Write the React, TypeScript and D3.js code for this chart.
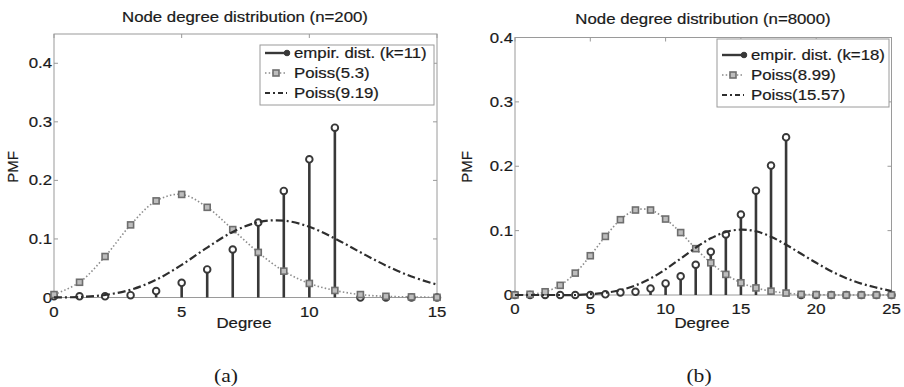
import * as d3 from "d3";
import { useEffect, useRef } from "react";

// ---- data ----
const degreesA = d3.range(0, 16);
const empiricalA = [0.002, 0.002, 0.002, 0.004, 0.011, 0.025, 0.048, 0.082, 0.128, 0.182, 0.236, 0.29, 0, 0, 0, 0];
const poissLowA = [0.005, 0.026, 0.07, 0.124, 0.165, 0.176, 0.154, 0.116, 0.077, 0.045, 0.024, 0.012, 0.005, 0.002, 0.001, 0.0003];
const poissHighA = [0.0001, 0.0009, 0.0043, 0.0132, 0.0303, 0.0557, 0.0853, 0.112, 0.1286, 0.1313, 0.1207, 0.1008, 0.0772, 0.0546, 0.0358, 0.022];

const degreesB = d3.range(0, 26);
const empiricalB = [0, 0, 0, 0, 0, 0, 0.001, 0.004, 0.005, 0.01, 0.018, 0.029, 0.047, 0.067, 0.094, 0.125, 0.162, 0.201, 0.245, 0, 0, 0, 0, 0, 0, 0];
const poissLowB = [0.0001, 0.0011, 0.005, 0.015, 0.034, 0.061, 0.091, 0.117, 0.132, 0.132, 0.118, 0.097, 0.072, 0.05, 0.032, 0.019, 0.011, 0.006, 0.003, 0.001, 0.0006, 0, 0, 0, 0, 0];
const poissHighB = [0, 0, 0, 0, 0, 0.0013, 0.0034, 0.0076, 0.0149, 0.0257, 0.04, 0.0566, 0.0735, 0.088, 0.098, 0.1015, 0.099, 0.0905, 0.078, 0.064, 0.05, 0.037, 0.026, 0.0177, 0.0115, 0.006];

const yTicks = [0, 0.1, 0.2, 0.3, 0.4];
const xTicksA = [0, 5, 10, 15];
const xTicksB = [0, 5, 10, 15, 20, 25];

const COLORS = {
  box: "#9a9a9a",
  text: "#1a1a1a",
  stem: "#383838",
  squareStroke: "#6e6e6e",
  squareFill: "#bdbdbd",
  dotted: "#8c8c8c",
  dashdot: "#2e2e2e",
};

const FONT = "'Liberation Sans', Arial, Helvetica, sans-serif";
const STRETCH = 1.2; // the reference is widened horizontally

const Panel = ({ svgRef, cfg }) => {
  useEffect(() => {
    const svg = d3.select(svgRef.current);
    const g = svg.append("g");

    const x = d3.scaleLinear().domain(cfg.xDomain).range([cfg.x0, cfg.x1]);
    const y = d3.scaleLinear().domain(cfg.yDomain).range([cfg.yBottom, cfg.yTop]);

    const addText = (tx, ty, str, anchor = "middle", size = 14, family = FONT, sw = 0.2) =>
      g
        .append("text")
        .attr("transform", `translate(${tx},${ty}) scale(${STRETCH},1)`)
        .attr("text-anchor", anchor)
        .attr("font-family", family)
        .attr("font-size", size)
        .attr("fill", COLORS.text)
        .attr("stroke", sw ? COLORS.text : "none")
        .attr("stroke-width", sw)
        .text(str);

    // box
    g.append("rect")
      .attr("x", cfg.x0)
      .attr("y", cfg.yTop)
      .attr("width", cfg.x1 - cfg.x0)
      .attr("height", cfg.yBottom - cfg.yTop)
      .attr("fill", "none")
      .attr("stroke", COLORS.box)
      .attr("stroke-width", 1);

    // inner ticks on all sides
    const tl = 4;
    cfg.xTicks.forEach((t) => {
      g.append("line").attr("x1", x(t)).attr("x2", x(t)).attr("y1", cfg.yBottom).attr("y2", cfg.yBottom - tl).attr("stroke", COLORS.box);
      g.append("line").attr("x1", x(t)).attr("x2", x(t)).attr("y1", cfg.yTop).attr("y2", cfg.yTop + tl).attr("stroke", COLORS.box);
      addText(x(t), cfg.yBottom + 19, String(t));
    });
    yTicks.forEach((t) => {
      g.append("line").attr("x1", cfg.x0).attr("x2", cfg.x0 + tl).attr("y1", y(t)).attr("y2", y(t)).attr("stroke", COLORS.box);
      g.append("line").attr("x1", cfg.x1).attr("x2", cfg.x1 - tl).attr("y1", y(t)).attr("y2", y(t)).attr("stroke", COLORS.box);
      addText(cfg.x0 - 2, y(t) + 5, t === 0 ? "0" : t.toFixed(1), "end");
    });

    // stems
    const stems = cfg.degrees.map((d, i) => ({ d, v: cfg.empirical[i] }));
    g.selectAll(null)
      .data(stems)
      .enter()
      .append("line")
      .attr("x1", (s) => x(s.d))
      .attr("x2", (s) => x(s.d))
      .attr("y1", y(0))
      .attr("y2", (s) => y(s.v))
      .attr("stroke", COLORS.stem)
      .attr("stroke-width", 2.6);
    g.selectAll(null)
      .data(stems)
      .enter()
      .append("circle")
      .attr("cx", (s) => x(s.d))
      .attr("cy", (s) => y(s.v))
      .attr("r", 3.3)
      .attr("fill", "#fff")
      .attr("stroke", COLORS.stem)
      .attr("stroke-width", 1.9);

    // Poisson fit (low mean): dotted with squares
    const lineGen = d3
      .line()
      .x((p) => x(p[0]))
      .y((p) => y(p[1]))
      .curve(d3.curveCatmullRom);
    const low = cfg.degrees.map((d, i) => [d, cfg.poissLow[i]]);
    g.append("path")
      .attr("d", lineGen(low))
      .attr("fill", "none")
      .attr("stroke", COLORS.dotted)
      .attr("stroke-width", 1.6)
      .attr("stroke-dasharray", "1.5,2.2");
    g.selectAll(null)
      .data(low)
      .enter()
      .append("rect")
      .attr("x", (p) => x(p[0]) - 3)
      .attr("y", (p) => y(p[1]) - 3)
      .attr("width", 6)
      .attr("height", 6)
      .attr("fill", COLORS.squareFill)
      .attr("stroke", COLORS.squareStroke)
      .attr("stroke-width", 1.6);

    // Poisson fit (high mean): dash-dot
    const high = cfg.degrees.map((d, i) => [d, cfg.poissHigh[i]]);
    g.append("path")
      .attr("d", lineGen(high))
      .attr("fill", "none")
      .attr("stroke", COLORS.dashdot)
      .attr("stroke-width", 2.2)
      .attr("stroke-dasharray", "8,3,2,3");

    // titles
    addText(cfg.titleX, cfg.titleY, cfg.title);
    addText(cfg.xLabelX, 328, "Degree");
    g.append("text")
      .attr("transform", `translate(${cfg.pmfX},167) rotate(-90)`)
      .attr("text-anchor", "middle")
      .attr("font-family", FONT)
      .attr("font-size", 15)
      .attr("fill", COLORS.text)
      .attr("stroke", COLORS.text)
      .attr("stroke-width", 0.2)
      .text("PMF");
    addText(cfg.capX, 382, cfg.caption, "middle", 18, "'Liberation Serif', 'Times New Roman', serif", 0);

    // legend
    const L = cfg.legend;
    g.append("rect")
      .attr("x", L.x)
      .attr("y", L.y)
      .attr("width", L.w)
      .attr("height", L.h)
      .attr("fill", "#fff")
      .attr("stroke", COLORS.box);
    const rows = L.rows;
    const sx0 = L.x + 5;
    const sx1 = L.x + 27;
    // row 1: stem
    g.append("line").attr("x1", sx0).attr("x2", sx1).attr("y1", rows[0] - 5).attr("y2", rows[0] - 5).attr("stroke", COLORS.stem).attr("stroke-width", 2.4);
    g.append("circle").attr("cx", sx1).attr("cy", rows[0] - 5).attr("r", 2.8).attr("fill", COLORS.stem).attr("stroke", COLORS.stem);
    // row 2: dotted + square
    g.append("line").attr("x1", sx0).attr("x2", sx1).attr("y1", rows[1] - 5).attr("y2", rows[1] - 5).attr("stroke", COLORS.dotted).attr("stroke-width", 1.6).attr("stroke-dasharray", "1.5,2.2");
    g.append("rect").attr("x", (sx0 + sx1) / 2 - 3).attr("y", rows[1] - 8).attr("width", 6).attr("height", 6).attr("fill", COLORS.squareFill).attr("stroke", COLORS.squareStroke).attr("stroke-width", 1.6);
    // row 3: dash-dot
    g.append("line").attr("x1", sx0).attr("x2", sx1).attr("y1", rows[2] - 5).attr("y2", rows[2] - 5).attr("stroke", COLORS.dashdot).attr("stroke-width", 2).attr("stroke-dasharray", "5,3,2,3");
    L.labels.forEach((lab, i) => addText(L.x + 34, rows[i], lab, "start"));

    return () => {
      g.remove();
    };
  }, [svgRef, cfg]);
  return null;
};

const panelA = {
  degrees: degreesA,
  empirical: empiricalA,
  poissLow: poissLowA,
  poissHigh: poissHighA,
  xDomain: [0, 15],
  yDomain: [0, 0.45],
  xTicks: xTicksA,
  x0: 54,
  x1: 437,
  yTop: 34,
  yBottom: 297.5,
  title: "Node degree distribution (n=200)",
  titleX: 245,
  titleY: 22,
  xLabelX: 244,
  pmfX: 18,
  caption: "(a)",
  capX: 226,
  legend: {
    x: 260,
    y: 45,
    w: 174,
    h: 60,
    rows: [58, 78, 98],
    labels: ["empir. dist. (k=11)", "Poiss(5.3)", "Poiss(9.19)"],
  },
};

const panelB = {
  degrees: degreesB,
  empirical: empiricalB,
  poissLow: poissLowB,
  poissHigh: poissHighB,
  xDomain: [0, 25],
  yDomain: [0, 0.4],
  xTicks: xTicksB,
  x0: 515,
  x1: 891.5,
  yTop: 37.5,
  yBottom: 295,
  title: "Node degree distribution (n=8000)",
  titleX: 703,
  titleY: 24,
  xLabelX: 702,
  pmfX: 472,
  caption: "(b)",
  capX: 699,
  legend: {
    x: 717,
    y: 39,
    w: 172,
    h: 68,
    rows: [60, 80, 100],
    labels: ["empir. dist. (k=18)", "Poiss(8.99)", "Poiss(15.57)"],
  },
};

export default function App() {
  const svgRef = useRef(null);
  return (
    <svg
      ref={svgRef}
      width={904}
      height={387}
      style={{ position: "absolute", left: 0, top: 0, background: "#fff" }}
    >
      <Panel svgRef={svgRef} cfg={panelA} />
      <Panel svgRef={svgRef} cfg={panelB} />
    </svg>
  );
}
